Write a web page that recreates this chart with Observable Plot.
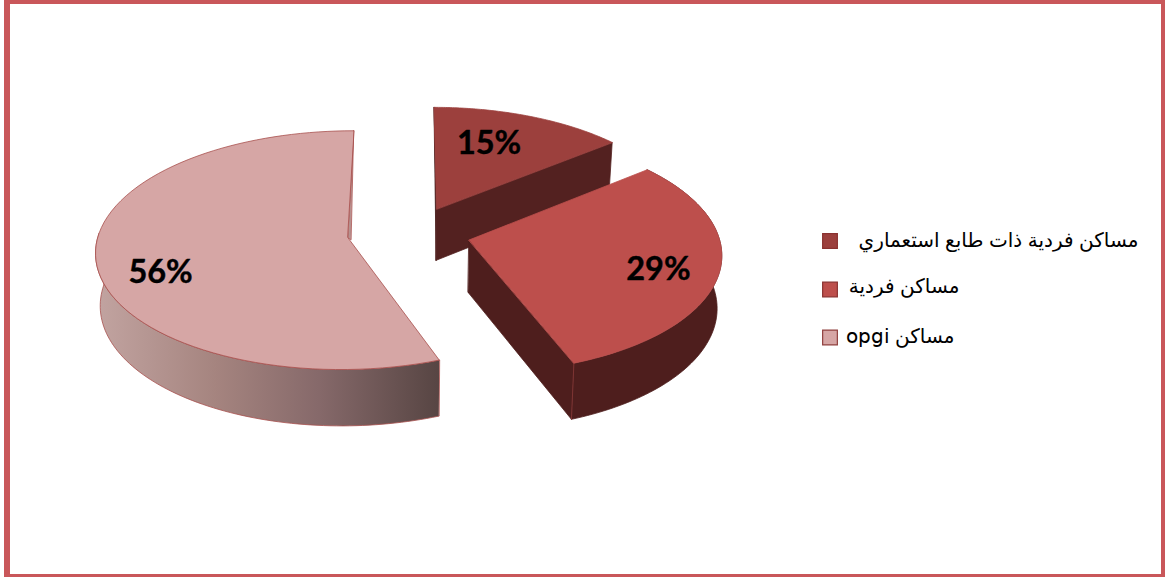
<!DOCTYPE html>
<html>
<head>
<meta charset="utf-8">
<script src="https://cdn.jsdelivr.net/npm/d3@7"></script>
<script src="https://cdn.jsdelivr.net/npm/@observablehq/plot@0.6"></script>
<style>
html,body{margin:0;padding:0;background:#fff;overflow:hidden}
@font-face{font-family:LegendLatin;src:local("DejaVu Sans");unicode-range:U+0041-007A}
</style>
</head>
<body>
<div id="chart"></div>
<script>
// Data
const categories = ["مساكن فردية ذات طابع استعماري", "مساكن فردية", "\u2067مساكن opgi\u2069"];
const shares = [15, 29, 56];
const labels = ["15%", "29%", "56%"];
const topColors = ["#9c403d", "#bd4f4c", "#d6a6a5"];
const wallColors = ["#532120", "#4e1e1d", "url(#pinkWall)"];

// Layout of the tilted, exploded pie
const W = 1165, H = 577;
const view = {x0: 408.5, y0: 232, R: 249, A: 117, k: 0.105, D: 52, b: 0.985, explodeX: 62, explodeV: 0.23, squeezeBack: 0.89, squeezeFront: 0.955};
const labelAngle = [23.1, 107.8, 249.3];
const labelRadius = [0.666, 0.77, 0.773];
const rad = Math.PI / 180;

let acc = 0;
const slices = shares.map((v, i) => {
  const a0 = acc / 100 * 360; acc += v; const a1 = acc / 100 * 360;
  const m = (a0 + a1) / 2 * rad;
  return {i, a0, a1, ex: view.explodeX * Math.sin(m), ev: -view.explodeV * Math.cos(m)};
});
function world(s, deg, r) {
  const t0 = deg * rad;
  const c = Math.cos(t0) > 0 ? view.squeezeBack : view.squeezeFront;
  const t = Math.atan2(c * Math.sin(t0), Math.cos(t0));
  const X = s.ex + view.R * r * Math.sin(t), V = s.ev - r * Math.cos(t);
  return {X, V, p: 1 / (1 - view.k * V)};
}
const upper = (s, deg, r = 1) => { const w = world(s, deg, r);
  return {x: view.x0 + w.X * w.p, y: view.y0 + view.A * w.V * w.p}; };
const lower = (s, deg, r = 1) => { const w = world(s, deg, r);
  return {x: view.x0 + w.X * w.p * view.b, y: view.y0 + view.A * w.V * w.p * view.b + view.D * w.p}; };
const arc = (f, s, a, b) => { const n = 80; return d3.range(n + 1).map(j => f(s, a + (b - a) * j / n)); };

const topFace = s => [upper(s, s.a0, 0), ...arc(upper, s, s.a0, s.a1)];
const outerWall = (s, a, b) => [...arc(upper, s, a, b), ...arc(lower, s, a, b).reverse()];
const radialWall = (s, deg) => [upper(s, deg, 0), upper(s, deg), lower(s, deg), lower(s, deg, 0)];

const [sA, sB, sC] = slices;
const poly = (pts, fill, stroke = fill, strokeWidth = 0.8) =>
  Plot.line(pts, {x: "x", y: "y", curve: "linear-closed", fill, stroke, strokeWidth});

const defs = () => {
  const d = d3.create("svg:defs");
  const g = d.append("linearGradient").attr("id", "pinkWall").attr("x1", 0).attr("x2", 1).attr("y1", 0).attr("y2", 0);
  [[0, "#c2a4a1"], [0.35, "#a5847f"], [0.65, "#86696a"], [1, "#574543"]].forEach(([o, c]) =>
    g.append("stop").attr("offset", o).attr("stop-color", c));
  return d.node();
};

// Legend
const legendX = 829.5;
const legendY = [240.5, 289, 337];
const legendTextX = [1138, 959, 954];
const legendTextY = [240, 286, 336];
const legend = categories.map((c, i) => ({c, i, x: legendX, y: legendY[i], tx: legendTextX[i], ty: legendTextY[i]}));

// Frame
const frameColor = "#c9575a";
const bars = [
  {x1: 4, x2: 10, y1: 0, y2: H},
  {x1: 1161, x2: W, y1: 0, y2: H},
  {x1: 4, x2: W, y1: 0, y2: 4},
  {x1: 4, x2: W, y1: 574, y2: H}
];

const valueLabels = slices.map(s => ({t: labels[s.i], ...upper(s, labelAngle[s.i], labelRadius[s.i])}));

const chart = Plot.plot({
  width: W, height: H, margin: 0,
  x: {domain: [0, W], range: [0, W], axis: null},
  y: {domain: [0, H], range: [0, H], axis: null},
  style: {background: "#fff"},
  marks: [
    defs,
    Plot.rect(bars, {x1: "x1", x2: "x2", y1: "y1", y2: "y2", fill: frameColor}),
    // pink slice
    poly(outerWall(sC, sC.a0, 272), wallColors[2], "#a8504e"),
    poly([upper(sC, 360), upper(sC, 360, 0), {x: upper(sC, 360, 0).x + 3, y: upper(sC, 360, 0).y + 2}], "#b8918f", "#a8504e"),
    poly(topFace(sC), topColors[2], "#a8504e"),
    // 15% slice
    poly([upper(sA, sA.a0), upper(sA, sA.a0, 0), lower(sA, sA.a0, 0)], "#3f1514", "#3f1514"),
    poly(radialWall(sA, sA.a1), wallColors[0]),
    poly(topFace(sA), topColors[0]),
    // 29% slice
    poly(radialWall(sB, sB.a1), wallColors[1]),
    poly(outerWall(sB, sB.a0, sB.a1), wallColors[1]),
    Plot.line([upper(sB, sB.a1), lower(sB, sB.a1)], {x: "x", y: "y", stroke: "#8a3a38", strokeWidth: 0.8}),
    poly(topFace(sB), topColors[1]),
    Plot.text(valueLabels, {x: "x", y: "y", text: "t", fontFamily: "Lato, 'Open Sans', sans-serif", fontWeight: 700, fontSize: 32.5, fill: "#000", stroke: "#000", strokeWidth: 0.4}),
    // legend
    Plot.dot(legend, {x: "x", y: "y", symbol: "square", r: 8.3, fill: d => topColors[d.i], stroke: d => d.i === 2 ? "#8f3f3d" : "#8a3230", strokeWidth: 1.2}),
    Plot.text(legend, {x: "tx", y: "ty", text: "c", textAnchor: "end", fontFamily: "LegendLatin, 'Liberation Sans', 'DejaVu Sans', sans-serif", fontSize: 20, fill: "#000"})
  ]
});
document.getElementById("chart").appendChild(chart);
</script>
</body>
</html>
